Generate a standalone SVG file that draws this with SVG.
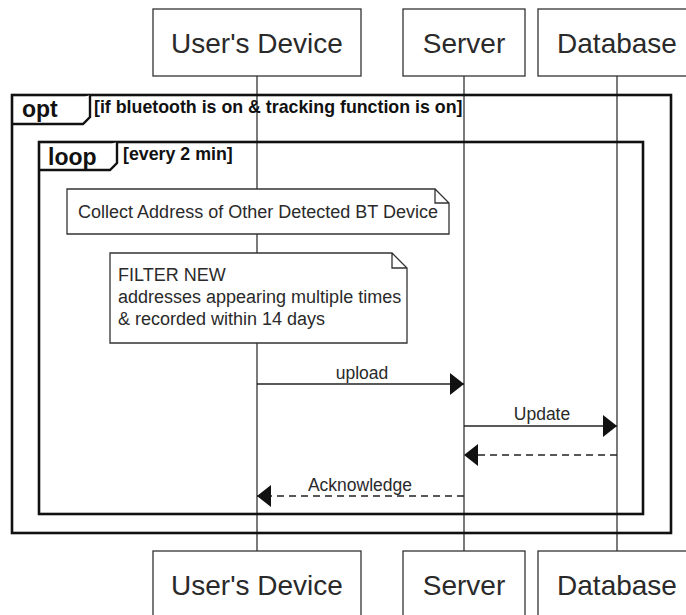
<svg xmlns="http://www.w3.org/2000/svg" width="686" height="615" viewBox="0 0 686 615">
  <style>
    text { font-family: "Liberation Sans", Arial, sans-serif; fill: #2a2a2a; }
    .actor rect { fill: #fff; stroke: #333; stroke-width: 1.3; }
    .actor text { font-size: 28px; text-anchor: middle; }
    .life { stroke: #333; stroke-width: 1.3; fill: none; }
    .frame { fill: none; stroke: #111; stroke-width: 2.6; }
    .tab { fill: #fff; stroke: #111; stroke-width: 2.4; }
    .kw { font-size: 23px; font-weight: bold; fill: #111; }
    .cond { font-size: 17.8px; font-weight: bold; fill: #111; }
    .note path { fill: #fff; stroke: #333; stroke-width: 1.3; }
    .note text { font-size: 18px; }
    .msg { stroke: #222; stroke-width: 1.3; fill: none; }
    .ret { stroke-dasharray: 7 5; }
    .lbl { font-size: 17.5px; text-anchor: middle; }
  </style>
  <defs>
    <marker id="head" viewBox="0 0 14 22" refX="14" refY="11" markerWidth="14" markerHeight="22" markerUnits="userSpaceOnUse" orient="auto">
      <path d="M0,0 L14,11 L0,22 z" fill="#111" stroke="none"/>
    </marker>
  </defs>
  <rect width="686" height="615" fill="#fff"/>

  <!-- lifelines -->
  <g id="lifelines">
    <line class="life" x1="257" y1="76" x2="257" y2="551"/>
    <line class="life" x1="464" y1="76" x2="464" y2="551"/>
    <line class="life" x1="617" y1="76" x2="617" y2="551"/>
  </g>

  <!-- participants, top -->
  <g id="device-top" class="actor">
    <rect x="153" y="9" width="208" height="67"/>
    <text x="257" y="53">User's Device</text>
  </g>
  <g id="server-top" class="actor">
    <rect x="403" y="9" width="122" height="67"/>
    <text x="464" y="53">Server</text>
  </g>
  <g id="database-top" class="actor">
    <rect x="538" y="9" width="158" height="67"/>
    <text x="617" y="53">Database</text>
  </g>

  <!-- opt fragment -->
  <g id="opt-frame">
    <rect class="frame" x="12" y="95" width="659" height="438"/>
    <path class="tab" d="M12,124 H83 L90,117 V95"/>
    <text class="kw" x="22" y="117">opt</text>
    <text class="cond" x="94" y="113">[if bluetooth is on &amp; tracking function is on]</text>
  </g>

  <!-- loop fragment -->
  <g id="loop-frame">
    <rect class="frame" x="39" y="142" width="604" height="372"/>
    <path class="tab" d="M39,170 H110 L117,163 V142"/>
    <text class="kw" x="48" y="165">loop</text>
    <text class="cond" x="123" y="160">[every 2 min]</text>
  </g>

  <!-- notes -->
  <g id="note-collect" class="note">
    <path d="M67,189 H435 L449,203 V234 H67 Z M435,189 V203 H449"/>
    <text x="258" y="218" text-anchor="middle">Collect Address of Other Detected BT Device</text>
  </g>
  <g id="note-filter" class="note">
    <path d="M110,253 H392 L407,268 V343 H110 Z M392,253 V268 H407"/>
    <text x="118" y="281">FILTER NEW</text>
    <text x="118" y="303">addresses appearing multiple times</text>
    <text x="118" y="325">&amp; recorded within 14 days</text>
  </g>

  <!-- messages -->
  <g id="connectors">
    <line class="msg" x1="257" y1="384" x2="464" y2="384" marker-end="url(#head)"/>
    <text class="lbl" x="362" y="379">upload</text>
    <line class="msg" x1="464" y1="426" x2="617" y2="426" marker-end="url(#head)"/>
    <text class="lbl" x="542" y="420">Update</text>
    <line class="msg ret" x1="617" y1="455" x2="464" y2="455" marker-end="url(#head)"/>
    <line class="msg ret" x1="464" y1="496" x2="257" y2="496" marker-end="url(#head)"/>
    <text class="lbl" x="360" y="491">Acknowledge</text>
  </g>

  <!-- participants, bottom -->
  <g id="device-bottom" class="actor">
    <rect x="153" y="551" width="208" height="70"/>
    <text x="257" y="595">User's Device</text>
  </g>
  <g id="server-bottom" class="actor">
    <rect x="403" y="551" width="122" height="70"/>
    <text x="464" y="595">Server</text>
  </g>
  <g id="database-bottom" class="actor">
    <rect x="538" y="551" width="158" height="70"/>
    <text x="617" y="595">Database</text>
  </g>
</svg>
